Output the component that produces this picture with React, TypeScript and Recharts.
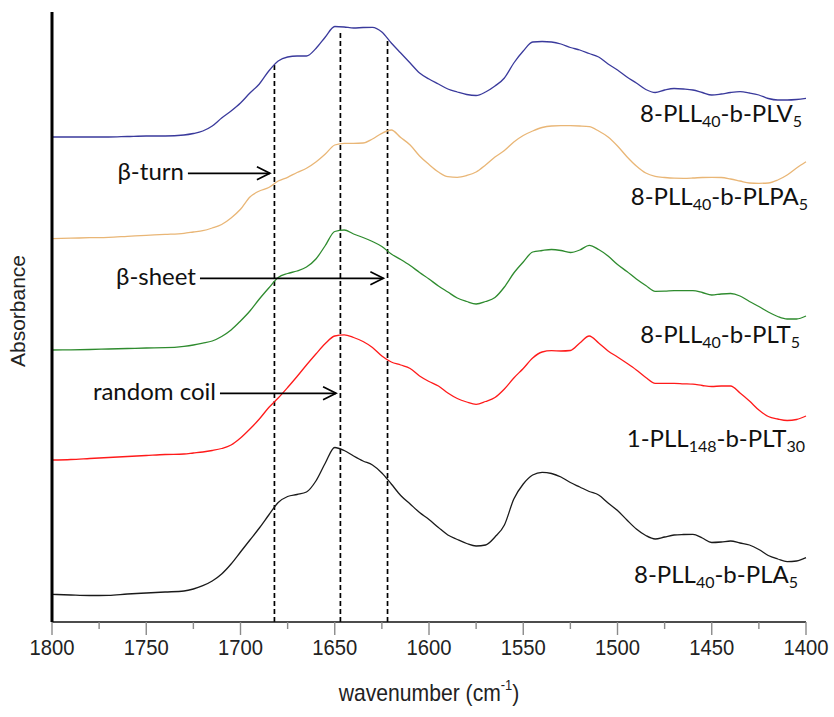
import { LineChart, Line, XAxis, YAxis, ReferenceLine, ReferenceDot } from 'recharts';

// wavenumber grid (cm-1), reversed axis 1800 -> 1400
const wavenumbers = [
  1800, 1790, 1780, 1770, 1760, 1750, 1740, 1730,
  1725, 1720, 1715, 1710, 1705, 1700, 1695, 1690, 1685, 1680,
  1675, 1670, 1665, 1660, 1655, 1650, 1645, 1640, 1635, 1630,
  1625, 1620, 1615, 1610, 1605, 1600, 1595, 1590, 1585, 1580,
  1575, 1570, 1565, 1560, 1555, 1550, 1545, 1540, 1535, 1530,
  1525, 1520, 1515, 1510, 1505, 1500, 1495, 1490, 1485, 1480,
  1475, 1470, 1465, 1460, 1455, 1450, 1445, 1440, 1435, 1430,
  1425, 1420, 1415, 1410, 1405, 1400,
];

// stacked absorbance traces (arbitrary units, offsets included)
const plv5 = [
  485, 485, 485, 485, 485.5, 486, 486, 487,
  488.5, 491, 496, 504, 511, 519, 529, 538, 551, 561,
  565, 566, 566, 573.5, 585, 595.5, 595, 594, 594.5, 594.7,
  590, 579, 569, 559, 549, 543, 538, 533, 530, 527.5,
  526.5, 530, 536, 544, 559, 571, 580, 580.5, 580, 578,
  574.5, 572, 568.5, 565, 558, 552, 545, 539, 532.5, 529.5,
  532, 533.5, 533, 532, 529.5, 527, 528, 529.5, 530.3, 529,
  527, 523.5, 522, 522, 522.5, 523.7,
];

const plpa5 = [
  383.3, 383.8, 384.3, 384.7, 385.7, 386.7, 387.6, 388.7,
  390, 391.3, 394, 397.5, 404, 412.7, 425, 431, 434.5, 441,
  444.7, 449.5, 453.7, 460, 468, 477, 478.7, 478.7, 479, 483,
  488.7, 492, 484.5, 477, 466, 457.5, 450, 445.3, 444.7, 446.5,
  450, 457, 465, 471.5, 480, 486.5, 491, 494.5, 496, 496.3,
  496.3, 496, 495.3, 491, 485, 476, 465.3, 456, 449, 445.7,
  444.5, 443.8, 443.7, 444, 444.5, 444.7, 444.5, 443, 441, 439,
  438.7, 439, 442, 447, 454, 460.3,
];

const plt5 = [
  272, 272.2, 272.5, 273, 273.5, 274, 274.3, 275.7,
  277, 278.8, 281, 285.5, 292, 301, 311, 323, 334, 344.5,
  348.5, 351, 355, 363, 376.5, 390.5, 392, 388, 384.5, 380.5,
  375.5, 368, 362.5, 356.5, 349.5, 343, 336, 330, 324, 320.5,
  318, 320.5, 324.5, 335, 349, 360, 370, 371.5, 372.5, 371.5,
  369.5, 372, 376.7, 372.5, 366, 357.5, 350.5, 343, 336.5, 330.7,
  330.8, 331.3, 331.3, 331.3, 329.5, 327, 328, 328.5, 326, 320.5,
  315.5, 310, 305.5, 303, 303, 306,
];

const plt30 = [
  162, 162.5, 163.5, 164.5, 165.5, 166.5, 167.5, 168,
  169, 170, 171.5, 173.5, 177, 184, 193, 203, 214.5, 224,
  234.5, 245.5, 257, 268, 278.5, 286, 287.2, 284.5, 280.5, 274.5,
  266, 260, 257, 253.5, 246, 240.5, 236, 229, 223.5, 220,
  217.7, 220.5, 224.5, 233, 244, 253.5, 264, 270, 271.3, 271,
  271.5, 279, 286, 279, 271, 265, 258.7, 252, 244.5, 238.7,
  238.7, 238.7, 238.2, 237.8, 236.5, 235.5, 236, 236, 229, 221,
  212, 205.5, 203, 201.5, 202.5, 206,
];

const pla5 = [
  27.7, 27, 26.5, 26.7, 28, 29, 30, 31,
  33, 36.3, 41, 48, 58, 70, 82, 94, 107, 119.5,
  125.5, 127.5, 130, 141, 159, 174.5, 171.5, 166, 161, 157,
  149, 138, 126.5, 118, 109.5, 102.5, 94.5, 87, 82.5, 78.5,
  76, 77, 85, 97, 123, 138, 147, 149.7, 148.5, 145,
  139.5, 135, 130.5, 127, 119, 111.5, 102, 93, 86.5, 83,
  85, 87, 87.5, 87.7, 84, 79.5, 80, 81, 79, 77,
  72.5, 66.5, 63, 60.3, 61, 64.3,
];

const xTicks = [1800, 1775, 1750, 1725, 1700, 1675, 1650, 1625, 1600, 1575, 1550, 1525, 1500, 1475, 1450, 1425, 1400];

// band assignments: dashed marker position and its top
const bandPositions = [1682, 1647, 1622];
const bandTops = [559, 590, 582];

const arrowLabels = ['β-turn', 'β-sheet', 'random coil'];
const arrowFrom = [1727.9, 1721.5, 1710.9];
const arrowTo = [1684.4, 1624.2, 1649.3];
const arrowLevel = [448.7, 343.7, 228.7];

interface SeriesDef {
  key: string;
  values: number[];
  color: string;
  name: [string, string, string, string];
  labelLevel: number;
  labelDx: number;
}

const series: SeriesDef[] = [
  { key: 'plv5', values: plv5, color: '#3a3a9c', name: ['8-PLL', '40', '-b-PLV', '5'], labelLevel: 500.3, labelDx: -4 },
  { key: 'plpa5', values: plpa5, color: '#e9b676', name: ['8-PLL', '40', '-b-PLPA', '5'], labelLevel: 417, labelDx: 2 },
  { key: 'plt5', values: plt5, color: '#2e8b2e', name: ['8-PLL', '40', '-b-PLT', '5'], labelLevel: 278.7, labelDx: -6 },
  { key: 'plt30', values: plt30, color: '#ff1a1a', name: ['1-PLL', '148', '-b-PLT', '30'], labelLevel: 175.3, labelDx: -1 },
  { key: 'pla5', values: pla5, color: '#1a1a1a', name: ['8-PLL', '40', '-b-PLA', '5'], labelLevel: 38.7, labelDx: -8 },
];

const data = wavenumbers.map((w, i) => {
  const row: Record<string, number> = { w };
  series.forEach((s) => {
    row[s.key] = s.values[i];
  });
  return row;
});

const labelFont = 'Lato, "Open Sans", sans-serif';
const axisFont = '"Liberation Sans", Arial, sans-serif';

function WaveTick(props: any) {
  const { x, y, payload } = props;
  const major = payload.value % 50 === 0;
  return (
    <g>
      <line x1={x} x2={x} y1={y} y2={y + (major ? 13 : 7)} stroke="#8a8a8a" strokeWidth={1.4} />
      {major && (
        <text
          transform={`translate(${x},${y + 33}) scale(0.92,1)`}
          textAnchor="middle"
          fontFamily={axisFont}
          fontSize={22}
          fill="#222"
        >
          {payload.value}
        </text>
      )}
    </g>
  );
}

function XTitle(props: any) {
  const vb = props.viewBox;
  const cx = vb.x + vb.width / 2;
  return (
    <text
      transform={`translate(${cx},${vb.y + 79}) scale(0.92,1)`}
      textAnchor="middle"
      fontFamily={axisFont}
      fontSize={23}
      fill="#222"
    >
      wavenumber (cm
      <tspan fontSize={14} dy={-11}>-1</tspan>
      <tspan dy={11}>)</tspan>
    </text>
  );
}

function YTitle(props: any) {
  const vb = props.viewBox;
  const cx = 18;
  const cy = vb.y + vb.height / 2 - 6;
  return (
    <text
      transform={`translate(${cx + 7},${cy}) rotate(-90)`}
      textAnchor="middle"
      fontFamily={axisFont}
      fontSize={21}
      fill="#222"
    >
      Absorbance
    </text>
  );
}

function Arrow(props: any) {
  const { x1, y1, x2, y2, text } = props;
  return (
    <g>
      <line x1={x1} y1={y1} x2={x2} y2={y2} stroke="#000" strokeWidth={1.7} />
      <polyline
        points={`${x2 - 13},${y2 - 6.5} ${x2},${y2} ${x2 - 13},${y2 + 6.5}`}
        fill="none"
        stroke="#000"
        strokeWidth={1.7}
      />
      <text x={x1 - 4} y={y1 + 7} textAnchor="end" fontFamily={labelFont} fontSize={24} fill="#111">
        {text}
      </text>
    </g>
  );
}

function SeriesName(props: any) {
  const { cx, cy, name, dx } = props;
  const [a, sub1, b, sub2] = name as string[];
  return (
    <text x={cx + dx} y={cy} textAnchor="end" fontFamily={labelFont} fontSize={24} fill="#111">
      {a}
      <tspan fontSize={16} dy={5}>{sub1}</tspan>
      <tspan dy={-5}>{b}</tspan>
      <tspan fontSize={16} dy={5}>{sub2}</tspan>
    </text>
  );
}

export default function App() {
  return (
    <div style={{ position: 'absolute', left: 0, top: 0, width: 834, height: 717, background: '#fff' }}>
      <LineChart width={834} height={717} data={data} margin={{ top: 12, right: 28, bottom: 0, left: 0 }}>
        <XAxis
          dataKey="w"
          type="number"
          domain={[1400, 1800]}
          reversed
          ticks={xTicks}
          interval={0}
          height={95}
          tickSize={0}
          tickMargin={0}
          tickLine={false}
          axisLine={{ stroke: '#111', strokeWidth: 1.7 }}
          tick={<WaveTick />}
          label={<XTitle />}
        />
        <YAxis
          type="number"
          domain={[0, 610]}
          width={52}
          tick={false}
          tickLine={false}
          axisLine={{ stroke: '#000', strokeWidth: 3 }}
          label={<YTitle />}
        />

        {bandPositions.map((b, i) => (
          <ReferenceLine
            key={`band-${b}`}
            segment={[{ x: b, y: 0 }, { x: b, y: bandTops[i] }]}
            stroke="#000"
            strokeWidth={1.7}
            strokeDasharray="5 3"
          />
        ))}

        {series.map((s) => (
          <Line
            key={s.key}
            dataKey={s.key}
            type="monotone"
            stroke={s.color}
            strokeWidth={1.3}
            dot={false}
            activeDot={false}
            isAnimationActive={false}
          />
        ))}

        {arrowLabels.map((t, i) => (
          <ReferenceLine
            key={`arrow-${t}`}
            segment={[{ x: arrowFrom[i], y: arrowLevel[i] }, { x: arrowTo[i], y: arrowLevel[i] }]}
            shape={(p: any) => <Arrow {...p} text={t} />}
          />
        ))}

        {series.map((s) => (
          <ReferenceDot
            key={`name-${s.key}`}
            x={1400}
            y={s.labelLevel}
            r={0}
            ifOverflow="visible"
            shape={(p: any) => <SeriesName {...p} name={s.name} dx={s.labelDx} />}
          />
        ))}
      </LineChart>
    </div>
  );
}
